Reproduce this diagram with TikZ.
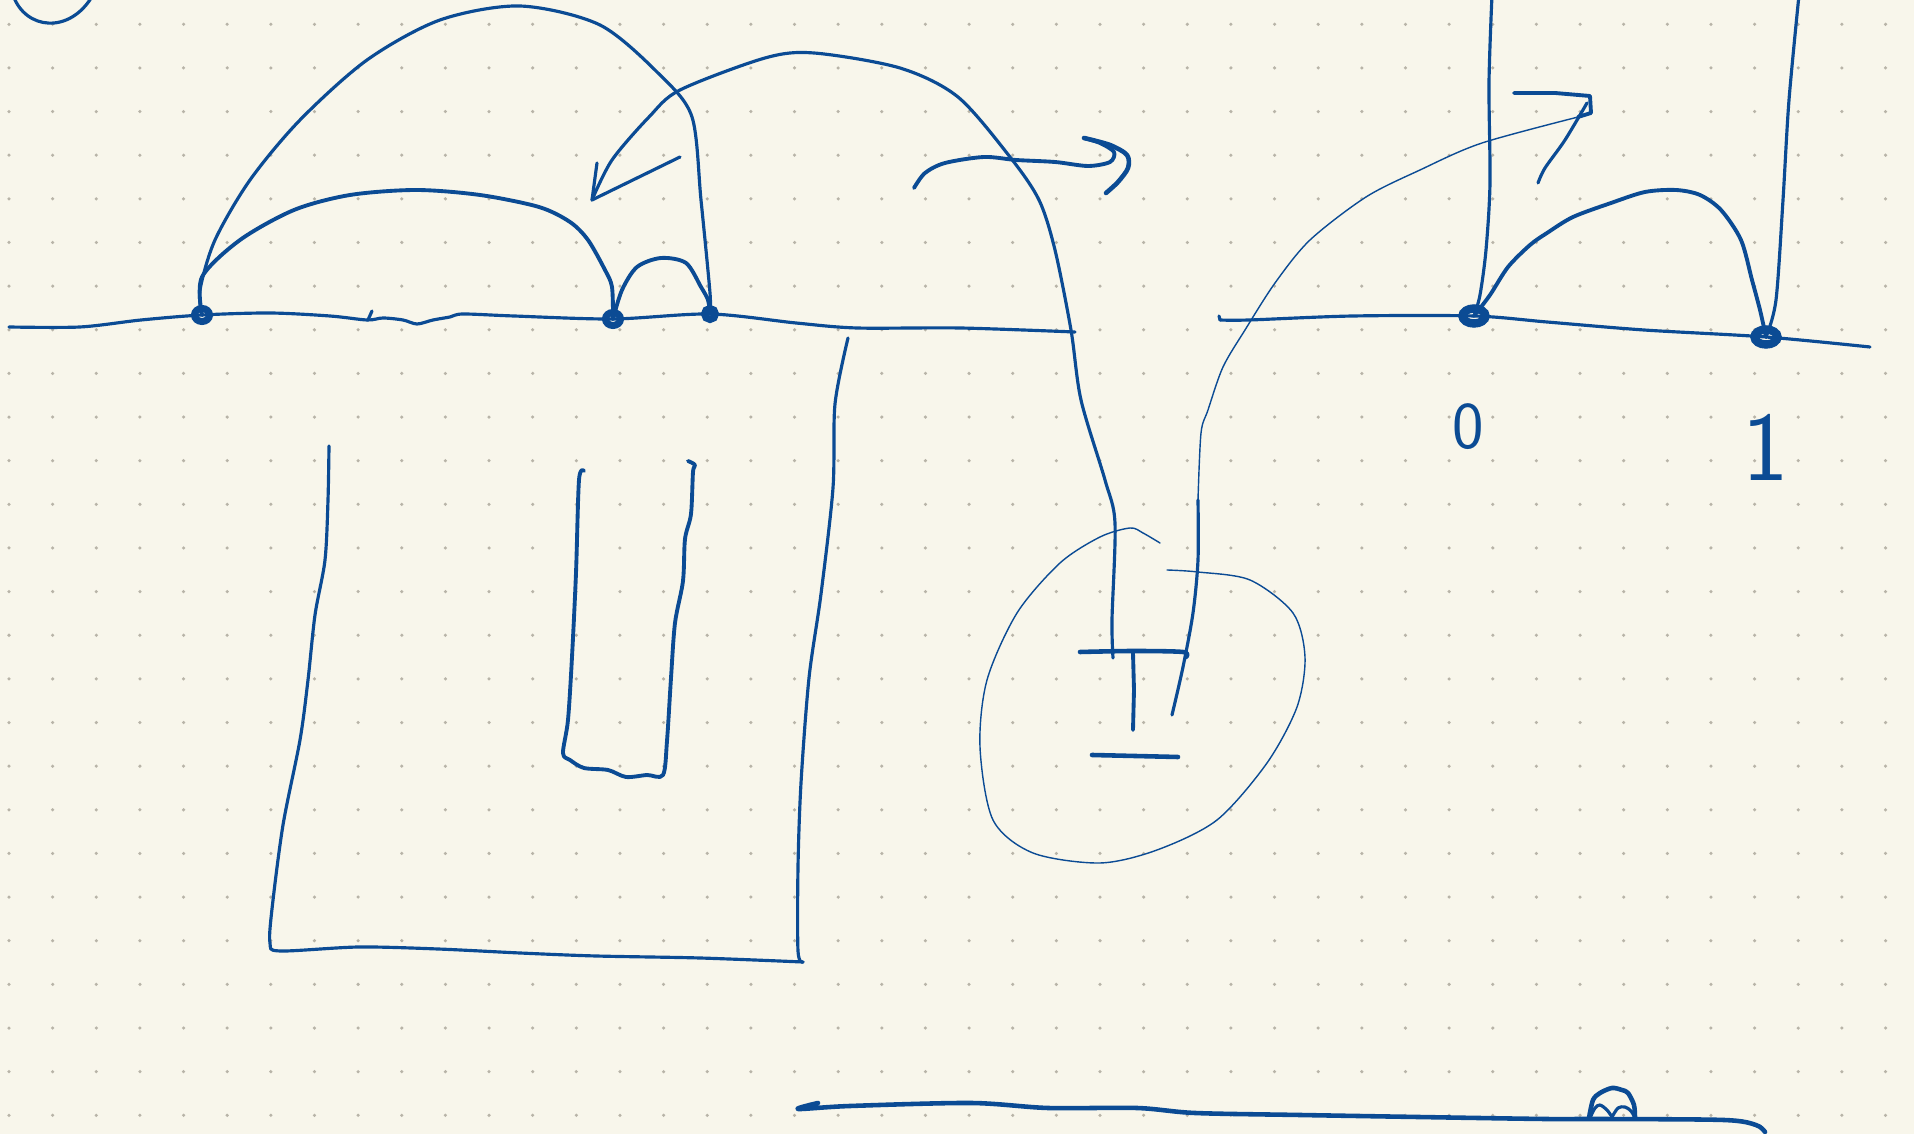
\documentclass[tikz,border=0pt]{standalone}
\usepackage{xcolor}
\usepackage{tikz}
\usetikzlibrary{arrows.meta, positioning, shapes.geometric}
\definecolor{paper}{HTML}{F8F6EB}
\definecolor{dotgrey}{HTML}{B8B4A8}
\definecolor{inkblue}{HTML}{0B4B94}
\tikzset{
  inkline/.style={draw=inkblue,line width=0.9pt,line cap=round,line join=round},
  thinline/.style={inkline,line width=0.4pt},
  boldline/.style={inkline,line width=1.3pt},
  ptnode/.style={ellipse,draw=inkblue,line width=2pt,minimum width=1.5mm,minimum height=1.3mm,inner sep=0pt},
  bigptnode/.style={ptnode,minimum width=2.3mm,minimum height=1.5mm,line width=2.4pt},
  digit/.style={text=inkblue,inner sep=0pt,font=\sffamily},
}

\begin{document}
\begin{tikzpicture}[x=0.01cm,y=-0.01cm]
  \useasboundingbox (0,0) rectangle (1914,1134);
  \fill[paper] (0,0) rectangle (1914,1134);
  \foreach \i in {0,...,43}{
    \foreach \j in {0,...,25}{
      \fill[dotgrey] ({9+43.64*\i},{24.3+43.64*\j}) circle (0.5pt);
    }
  }
  \clip (0,0) rectangle (1914,1134);
  \node[ptnode] (nA) at (202,315) {};
  \node[ptnode] (nB) at (613,319) {};
  \node[ptnode,minimum width=1.1mm,minimum height=1.1mm] (nC) at (710,314) {};
  \node[bigptnode] (nR0) at (1474,316) {};
  \node[bigptnode] (nR1) at (1766,337) {};
  \node[digit,font=\sffamily\fontsize{19}{19}\selectfont] (lbl0) at (1468,427) {0};
  \node[digit,font=\sffamily\fontsize{28}{28}\selectfont] (lbl1) at (1766,447) {1};
  \coordinate (bL0) at (9,327);
  \coordinate (bL1) at (1075,332);
  \coordinate (bR0) at (1220,320);
  \coordinate (bR1) at (1870,347);
  \coordinate (vL0) at (1492,-5);
  \coordinate (vR0) at (1799,-5);
  \coordinate (tipL) at (592,200);
  \coordinate (tTop) at (1113,658);
  \draw[inkline] (13,-5) .. controls (25,30) and (70,35) .. (93,-5);
  \draw[inkline] plot[smooth] coordinates {(bL0) (80,327) (141,320) (nA) (270,313) (330,316) (367,320) (383,318) (403,320) (417,324) (433,320) (450,317) (463,314) (514,316) (nB) (nC) (796,323) (857,328) (960,328) (bL1)};
  \draw[inkline] (368,320) -- (372,311);
  \draw[inkline] plot[smooth] coordinates {(nA) (200,290) (215,240) (250,180) (300,120) (367,60) (440,20) (520,6) (600,25) (660,75) (692,117) (701,200) (710,293) (nC)};
  \draw[inkline,line width=1.1pt] plot[smooth] coordinates {(nA) (202,277) (240,240) (294,210) (350,195) (416,190) (480,195) (539,207) (570,222) (588,240) (605,270) (612,287) (nB)};
  \draw[inkline,line width=1.1pt] plot[smooth] coordinates {(nB) (622,290) (637,267) (661,258) (686,263) (701,287) (708,300) (nC)};
  \draw[inkline] plot[smooth] coordinates {(tTop) (1112,620) (1115,523) (1105,480) (1081,400) (1071,330) (1055,250) (1039,200) (1010,157) (958,97) (900,68) (814,53) (765,58) (680,90) (649,117) (612,160) (tipL)};
  \draw[inkline] (597,163) -- (tipL) -- (680,157);
  \draw[inkline,line width=1.1pt] plot[smooth] coordinates {(914,188) (925,173) (945,163) (984,157) (1016,160) (1055,162) (1088,166) (1110,162) (1114,152) (1100,143) (1084,138)};
  \draw[boldline] plot[smooth] coordinates {(1084,138) (1110,145) (1127,155) (1128,168) (1118,182) (1106,193)};
  \draw[inkline] plot[smooth] coordinates {(329,446) (328,500) (325,560) (315,615) (308,680) (300,740) (283,825) (272,909) (270,943) (280,951) (359,947) (438,949) (520,953) (596,956) (700,958) (803,962)};
  \draw[inkline] plot[smooth] coordinates {(803,962) (798,951) (798,867) (801,783) (809,678) (821,594) (833,488) (835,404) (848,338)};
  \draw[inkline,line width=1.1pt] plot[smooth] coordinates {(584,471) (579,480) (576,573) (572,657) (568,720) (563,753) (570,760) (584,768) (608,770) (626,777) (647,775) (663,775) (667,741) (671,678) (675,623) (683,581) (685,539) (691,514) (693,472) (695,465) (688,461)};
  \draw[thinline] plot[smooth] coordinates {(1160,543) (1143,533) (1130,528) (1100,537) (1060,563) (1017,613) (987,680) (980,747) (993,820) (1033,853) (1100,863) (1157,850) (1217,820) (1267,763) (1297,707) (1305,657) (1293,613) (1250,580) (1198,572) (1167,570)};
  \draw[boldline] plot[smooth] coordinates {(1080,652) (1133,651) (1183,652) (1186,657)};
  \draw[inkline,line width=1.1pt] (1133,653) -- (1134,690) -- (1133,730);
  \draw[boldline] (1092,755) -- (1178,757);
  \draw[inkline] plot[smooth] coordinates {(bR0) (1249,320) (1353,316) (nR0) (1547,322) (1644,330) (nR1) (bR1)};
  \draw[inkline] (bR0) -- (1219,316);
  \draw[inkline] plot[smooth] coordinates {(vL0) (1489,83) (1490,183) (1486,250) (1480,295) (nR0)};
  \draw[inkline] plot[smooth] coordinates {(vR0) (1789,100) (1783,200) (1776,300) (nR1)};
  \draw[inkline,line width=1.1pt] plot[smooth] coordinates {(nR0) (1490,295) (1508,267) (1530,245) (1547,233) (1573,217) (1611,203) (1645,192) (1676,190) (1700,195) (1721,210) (1741,240) (1752,280) (1760,310) (nR1)};
  \draw[thinline] plot[smooth] coordinates {(1586,115) (1482,143) (1420,170) (1366,197) (1310,240) (1275,283) (1245,330) (1223,367) (1208,410) (1201,433) (1198,500)};
  \draw[inkline] plot[smooth] coordinates {(1198,500) (1198,560) (1193,613) (1183,667) (1172,715)};
  \draw[inkline,line width=1.1pt] (1514,93) -- (1555,93) -- (1590,96) -- (1591,113) -- (1578,117);
  \draw[inkline] plot[smooth] coordinates {(1587,103) (1565,140) (1545,168) (1538,183)};
  \draw[boldline] plot[smooth] coordinates {(818,1103) (798,1109) (850,1106) (971,1103) (1048,1108) (1137,1108) (1195,1113) (1300,1115) (1418,1117) (1545,1119) (1600,1119) (1724,1120) (1756,1125) (1765,1132)};
  \draw[boldline] plot[smooth] coordinates {(1589,1118) (1593,1100) (1600,1093) (1612,1088) (1622,1090) (1628,1093) (1634,1105) (1635,1118)};
  \draw[inkline] plot[smooth] coordinates {(1590,1118) (1595,1108) (1600,1105) (1607,1110) (1612,1117)};
  \draw[inkline] plot[smooth] coordinates {(1612,1117) (1618,1108) (1625,1107) (1631,1111) (1635,1118)};
\end{tikzpicture}
\end{document}
